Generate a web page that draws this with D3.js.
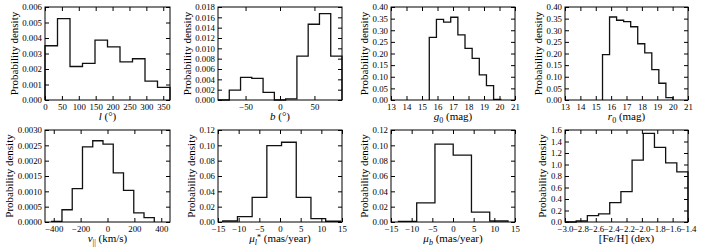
<!DOCTYPE html>
<html><head><meta charset="utf-8">
<script src="https://cdn.jsdelivr.net/npm/d3@7"></script>
<style>
html,body{margin:0;padding:0;background:#fff;}
text{font-family:"Liberation Serif","Times New Roman",serif;fill:#000;}
</style></head>
<body><svg id="c" width="702" height="250"></svg>
<script>
// ---- data (bin range [start,end], densities per equal-width bin) ----
const lRange = [0, 370];
const lDensity = [0.0035, 0.00525, 0.00216, 0.00236, 0.00386, 0.00343, 0.00246, 0.00266, 0.00122, 0.00081];
const lTicks = [0, 50, 100, 150, 200, 250, 300, 350];

const bRange = [-90, 90];
const bDensity = [0, 0.00193, 0.00437, 0.00418, 0.00148, 0, 0.0002, 0.00848, 0.01466, 0.0167, 0.0085];
const bTicks = [-50, 0, 50];

const gRange = [15.47, 20.08];
const gDensity = [0.269, 0.347, 0.335, 0.356, 0.28, 0.222, 0.179, 0.108, 0.062, 0.003];
const magTicks = [13, 14, 15, 16, 17, 18, 19, 20, 21];

const rRange = [15.44, 20.02];
const rDensity = [0.195, 0.357, 0.343, 0.337, 0.315, 0.242, 0.203, 0.131, 0.072, 0.01];

const vRange = [-415, 348];
const vDensity = [0.00002, 0.0004, 0.00109, 0.00245, 0.00265, 0.00254, 0.0016, 0.00103, 0.0003, 0.00014];
const vTicks = [-400, -200, 0, 200, 400];

const mulRange = [-13.85, 14.6];
const mulDensity = [0.0013, 0.007, 0.032, 0.0995, 0.104, 0.032, 0.0044, 0.001];
const muTicks = [-15, -10, -5, 0, 5, 10, 15];

const mubRange = [-13.2, 13.3];
const mubDensity = [0.0009, 0.0249, 0.1017, 0.0873, 0.013, 0.0013];

const fehRange = [-3.0, -1.4];
const fehDensity = [0, 0.017, 0.11, 0.14, 0.337, 0.53, 1.076, 1.54, 1.297, 1.03, 0.873];
const fehTicks = [-3.0, -2.8, -2.6, -2.4, -2.2, -2.0, -1.8, -1.6, -1.4];

// ---- panel definitions ----
const panels = [
  {range:lRange, dens:lDensity, xdom:[0,370], xticks:lTicks, xfmt:d3.format("d"), ydom:[0,0.006], ystep:0.001, yfmt:".3f", label:[["l","i"],[" (°)",""]]},
  {range:bRange, dens:bDensity, xdom:[-90,90], xticks:bTicks, xfmt:d3.format("d"), ydom:[0,0.018], ystep:0.002, yfmt:".3f", label:[["b","i"],[" (°)",""]]},
  {range:gRange, dens:gDensity, xdom:[13,21], xticks:magTicks, xfmt:d3.format("d"), ydom:[0,0.40], ystep:0.05, yfmt:".2f", label:[["g","i"],["0","sub"],[" (mag)",""]]},
  {range:rRange, dens:rDensity, xdom:[13,21], xticks:magTicks, xfmt:d3.format("d"), ydom:[0,0.40], ystep:0.05, yfmt:".2f", label:[["r","i"],["0","sub"],[" (mag)",""]]},
  {range:vRange, dens:vDensity, xdom:[-465,465], xticks:vTicks, xfmt:d3.format("d"), ydom:[0,0.003], ystep:0.0005, yfmt:".4f", label:[["v","i"],["||","sub"],[" (km/s)",""]]},
  {range:mulRange, dens:mulDensity, xdom:[-15,15], xticks:muTicks, xfmt:d3.format("d"), ydom:[0,0.12], ystep:0.02, yfmt:".2f", label:[["μ","i"],["l","subi"],["*","sup"],[" (mas/year)",""]]},
  {range:mubRange, dens:mubDensity, xdom:[-15,15], xticks:muTicks, xfmt:d3.format("d"), ydom:[0,0.12], ystep:0.02, yfmt:".2f", label:[["μ","i"],["b","subi"],[" (mas/year)",""]]},
  {range:fehRange, dens:fehDensity, xdom:[-3.0,-1.4], xticks:fehTicks, xfmt:d3.format(".1f"), ydom:[0,1.6], ystep:0.2, yfmt:".1f", label:[["[Fe/H] (dex)",""]]}
];

const cols = [[45,170],[218,342],[391,515],[565,688]];
const rows = [[7,100],[130,222]];
const svg = d3.select("#c");
const minus = s => s.replace(/-/g, "\u2212");
const TL = 4;

panels.forEach((p, i) => {
  const [x0, x1] = cols[i % 4];
  const [y0, y1] = rows[Math.floor(i / 4)];
  const x = d3.scaleLinear().domain(p.xdom).range([x0, x1]);
  const y = d3.scaleLinear().domain(p.ydom).range([y1, y0]);
  const g = svg.append("g");

  // histogram step outline
  const n = p.dens.length;
  const w = (p.range[1] - p.range[0]) / n;
  const pts = [[p.range[0], 0]];
  p.dens.forEach((d, k) => {
    pts.push([p.range[0] + k * w, d]);
    pts.push([p.range[0] + (k + 1) * w, d]);
  });
  pts.push([p.range[1], 0]);
  g.append("path")
    .attr("d", d3.line().x(d => x(d[0])).y(d => y(d[1]))(pts))
    .attr("fill", "none").attr("stroke", "#111").attr("stroke-width", 1.3);

  // y ticks
  const nY = Math.round((p.ydom[1] - p.ydom[0]) / p.ystep);
  const yt = d3.range(nY + 1).map(k => p.ydom[0] + k * p.ystep);
  const yf = d3.format(p.yfmt);
  const gy = g.append("g").attr("transform", `translate(${x0},0)`)
    .call(d3.axisLeft(y).tickValues(yt).tickSize(-TL).tickPadding(3).tickFormat(d => yf(d)));
  const gyr = g.append("g").attr("transform", `translate(${x1},0)`)
    .call(d3.axisRight(y).tickValues(yt).tickSize(-TL).tickFormat(""));
  // x ticks
  const gx = g.append("g").attr("transform", `translate(0,${y1})`)
    .call(d3.axisBottom(x).tickValues(p.xticks).tickSize(-TL).tickPadding(3).tickFormat(d => minus(p.xfmt(d))));
  const gxt = g.append("g").attr("transform", `translate(0,${y0})`)
    .call(d3.axisTop(x).tickValues(p.xticks).tickSize(-TL).tickFormat(""));
  [gy, gyr, gx, gxt].forEach(a => {
    a.select(".domain").remove();
    a.selectAll("line").attr("stroke", "#000").attr("stroke-width", 1);
    a.selectAll("text").attr("font-family", "Liberation Serif, serif").attr("font-size", 8.8).attr("fill", "#000");
  });
  gx.selectAll("text").attr("dy", null).attr("y", 9.5);

  // frame
  g.append("rect").attr("x", x0).attr("y", y0).attr("width", x1 - x0).attr("height", y1 - y0)
    .attr("fill", "none").attr("stroke", "#000").attr("stroke-width", 1);

  // x label
  const xl = g.append("text").attr("x", (x0 + x1) / 2).attr("y", y1 + 20)
    .attr("text-anchor", "middle").attr("font-size", 11);
  let shift = 0;
  p.label.forEach(([t, s]) => {
    const ts = xl.append("tspan").text(t);
    if (s === "i") ts.attr("font-style", "italic");
    if (s === "sub") { ts.attr("font-size", 8).attr("dy", 2.5 - shift); shift = 2.5; }
    if (s === "subi") { ts.attr("font-size", 8).attr("dy", 2.5 - shift).attr("font-style", "italic"); shift = 2.5; }
    if (s === "sup") { ts.attr("font-size", 8).attr("dy", -2.5 - shift); shift = -2.5; }
    if (s === "" && shift) { ts.attr("dy", -shift); shift = 0; }
  });

  // y label
  let maxW = 0;
  gy.selectAll("text").each(function(){ maxW = Math.max(maxW, this.getBBox().width); });
  const lx = x0 - TL + 1 - maxW - 4;
  g.append("text").attr("transform", `translate(${lx},${(y0 + y1) / 2}) rotate(-90)`)
    .attr("text-anchor", "middle").attr("font-size", 11).text("Probability density");
});
</script></body></html>
